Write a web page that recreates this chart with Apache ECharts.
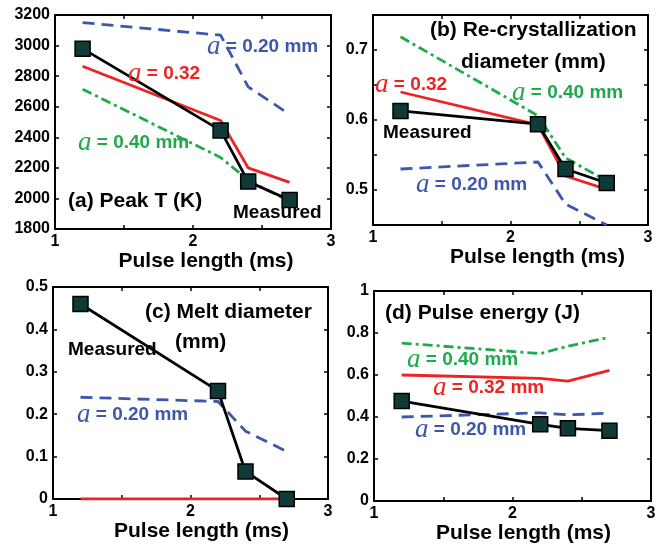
<!DOCTYPE html>
<html><head><meta charset="utf-8">
<script src="https://cdn.jsdelivr.net/npm/echarts@6/dist/echarts.min.js"></script>
<style>html,body{margin:0;padding:0;background:#fff}#c{width:664px;height:550px}</style>
</head><body><div id="c"></div>
<script>
// ---- data ----
const pulseLength = [1.2, 2.2, 2.4, 2.7];

const peakT_measured = [2980, 2445, 2110, 1990];
const peakT_a032 = [2865, 2510, 2200, 2105];
const peakT_a020 = [3150, 3068, 2730, 2550];
const peakT_a040 = [2715, 2268, 2120, 1980];

const recryst_measured = [0.613, 0.594, 0.530, 0.510];
const recryst_a032 = [0.640, 0.593, 0.520, 0.501];
const recryst_a020 = [0.530, 0.540, 0.480, 0.450];
const recryst_a040 = [0.719, 0.606, 0.546, 0.513];

const melt_measured = [0.46, 0.255, 0.065, 0.0];
const melt_a032 = [0.0, 0.0, 0.0, 0.0];
const melt_a020 = [0.24, 0.23, 0.16, 0.112];

const energy_measured = [0.476, 0.365, 0.346, 0.335];
const energy_a032 = [0.600, 0.584, 0.571, 0.622];
const energy_a020 = [0.400, 0.420, 0.410, 0.418];
const energy_a040 = [0.752, 0.702, 0.737, 0.780];

const xAxisName = 'Pulse length (ms)';

// ---- styles ----
const RED = '#ee2222', BLUE = '#3d58a8', GREEN = '#1faa4b', MARK = '#0f3a38';
const SANS = '"Liberation Sans", Arial, sans-serif';
const SERIF = '"Liberation Serif", "Times New Roman", serif';
const DASH = [12, 7], DASHDOT = [10, 4, 3, 4];

const pairs = ys => pulseLength.map((x, i) => [x, ys[i]]);

function measured(gi, ys) {
  return { type: 'line', xAxisIndex: gi * 2, yAxisIndex: gi * 2, data: pairs(ys), z: 5,
    symbol: 'rect', symbolSize: 15, showSymbol: true,
    lineStyle: { color: '#000', width: 2.8 },
    itemStyle: { color: MARK, borderColor: '#000', borderWidth: 1.5 }, animation: false };
}
function model(gi, ys, color, type) {
  return { type: 'line', xAxisIndex: gi * 2, yAxisIndex: gi * 2, data: pairs(ys), z: 3,
    symbol: 'none', lineStyle: { color: color, width: 2.8, type: type }, animation: false };
}

const grids = [
  { left: 55, top: 15, width: 276, height: 214 },
  { left: 373, top: 15, width: 275, height: 210 },
  { left: 53, top: 287, width: 275, height: 212 },
  { left: 374, top: 291, width: 277, height: 210 }
];
const yr = [
  { min: 1800, max: 3200, interval: 200, fmt: v => String(v) },
  { min: 0.45, max: 0.75, interval: 0.05, fmt: v => (Math.abs(v * 10 - Math.round(v * 10)) < 1e-6 ? v.toFixed(1) : '') },
  { min: 0, max: 0.5, interval: 0.1, fmt: v => (v === 0 ? '0' : String(+v.toFixed(1))) },
  { min: 0, max: 1, interval: 0.2, fmt: v => (v === 0 ? '0' : String(+v.toFixed(1))) }
];
const nameGaps = [14, 20, 16, 20];
const nameShift = [13, 27, 11, 11];

const line = { show: true, onZero: false, lineStyle: { color: '#000', width: 2 } };
const tick = { show: true, inside: true, length: 4, lineStyle: { color: '#000', width: 1.5 } };
const xAxes = [], yAxes = [];
grids.forEach((g, i) => {
  xAxes.push({ type: 'value', gridIndex: i, min: 1, max: 3, interval: 0.5, position: 'bottom',
    axisLine: line, axisTick: tick, splitLine: { show: false },
    axisLabel: { margin: 5, color: '#000', fontSize: 16, fontWeight: 'bold', fontFamily: SANS,
      formatter: v => (Number.isInteger(v) ? String(v) : '') },
    name: xAxisName, nameLocation: 'middle', nameGap: nameGaps[i],
    nameTextStyle: { color: '#000', fontSize: 21, fontWeight: 'bold', fontFamily: SANS,
      verticalAlign: 'top', padding: [0, 0, 0, nameShift[i] * 2] } });
  xAxes.push({ type: 'value', gridIndex: i, min: 1, max: 3, interval: 0.5, position: 'top',
    axisLine: line, axisTick: tick, splitLine: { show: false }, axisLabel: { show: false } });
  yAxes.push({ type: 'value', gridIndex: i, min: yr[i].min, max: yr[i].max, interval: yr[i].interval,
    position: 'left', axisLine: line, axisTick: tick, splitLine: { show: false },
    axisLabel: { margin: 5, color: '#000', fontSize: 16, fontWeight: 'bold', fontFamily: SANS, formatter: yr[i].fmt } });
  yAxes.push({ type: 'value', gridIndex: i, min: yr[i].min, max: yr[i].max, interval: yr[i].interval,
    position: 'right', axisLine: line, axisTick: tick, splitLine: { show: false }, axisLabel: { show: false } });
});

const series = [
  model(0, peakT_a020, BLUE, DASH),
  model(0, peakT_a040, GREEN, DASHDOT),
  model(0, peakT_a032, RED, 'solid'),
  measured(0, peakT_measured),
  model(1, recryst_a020, BLUE, DASH),
  model(1, recryst_a040, GREEN, DASHDOT),
  model(1, recryst_a032, RED, 'solid'),
  measured(1, recryst_measured),
  model(2, melt_a020, BLUE, DASH),
  model(2, melt_a032, RED, 'solid'),
  measured(2, melt_measured),
  model(3, energy_a020, BLUE, DASH),
  model(3, energy_a040, GREEN, DASHDOT),
  model(3, energy_a032, RED, 'solid'),
  measured(3, energy_measured)
];

// ---- annotations ----
function label(x, y, text, color, size) {
  return { type: 'text', x: x, y: y, z: 10, silent: true,
    style: { text: text, fill: color, font: 'bold ' + (size || 19) + 'px ' + SANS, verticalAlign: 'middle', align: 'left' } };
}
function aLabel(x, y, rest, color) {
  return { type: 'text', x: x, y: y, z: 10, silent: true,
    style: { text: '{i|a}{t|' + rest + '}', verticalAlign: 'middle', align: 'left',
      rich: {
        i: { fill: color, fontFamily: SERIF, fontStyle: 'italic', fontSize: 27, fontWeight: 'normal' },
        t: { fill: color, fontFamily: SANS, fontWeight: 'bold', fontSize: 19 }
      } } };
}
const graphics = [
  aLabel(207, 47, ' = 0.20 mm', BLUE),
  aLabel(128, 74, ' = 0.32', RED),
  aLabel(78, 143, ' = 0.40 mm', GREEN),
  label(68, 201, '(a) Peak T (K)', '#000', 21),
  label(233, 213, 'Measured', '#000', 19),

  label(430, 30, '(b) Re-crystallization', '#000', 21),
  label(461, 62, 'diameter (mm)', '#000', 21),
  aLabel(375, 85, ' = 0.32', RED),
  aLabel(512, 93, ' = 0.40 mm', GREEN),
  label(383, 133, 'Measured', '#000', 19),
  aLabel(416, 185, ' = 0.20 mm', BLUE),

  label(145, 312, '(c) Melt diameter', '#000', 21),
  label(175, 342, '(mm)', '#000', 21),
  label(68, 350, 'Measured', '#000', 19),
  aLabel(77, 415, ' = 0.20 mm', BLUE),

  label(385, 313, '(d) Pulse energy (J)', '#000', 21),
  aLabel(407, 360, ' = 0.40 mm', GREEN),
  aLabel(433, 388, ' = 0.32 mm', RED),
  aLabel(415, 430, ' = 0.20 mm', BLUE)
];

const chart = echarts.init(document.getElementById('c'), null, { renderer: 'canvas' });
chart.setOption({
  animation: false,
  backgroundColor: '#fff',
  grid: grids,
  xAxis: xAxes,
  yAxis: yAxes,
  series: series,
  graphic: graphics
});
</script>
</body></html>
